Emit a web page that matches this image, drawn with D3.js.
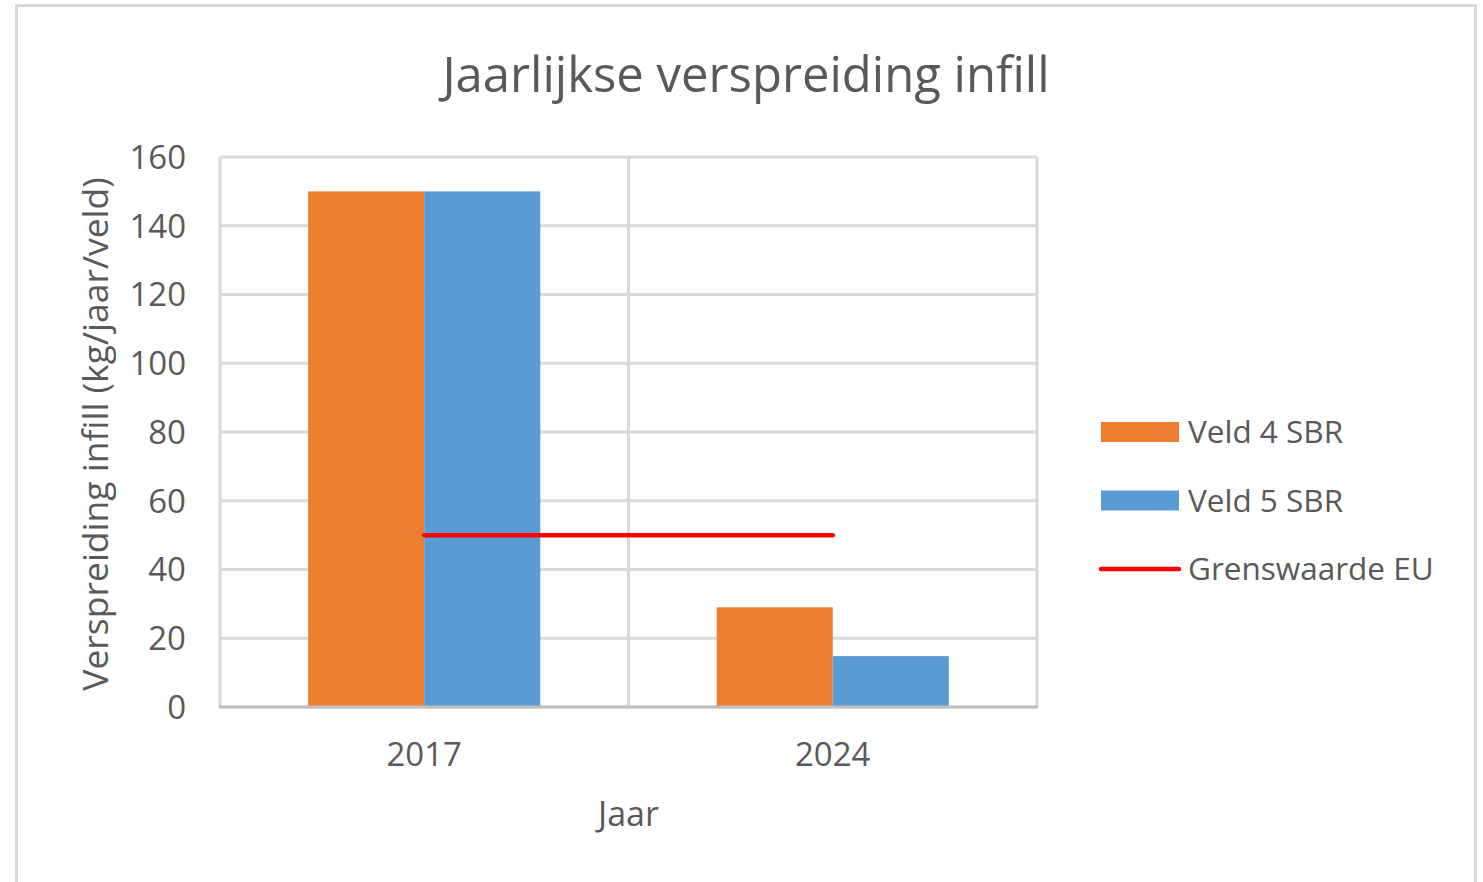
<!DOCTYPE html>
<html>
<head>
<meta charset="utf-8">
<script src="https://cdn.jsdelivr.net/npm/d3@7"></script>
<style>
  body { margin: 0; background: #fff; }
  text { font-family: "Open Sans", "Noto Sans", sans-serif; fill: #595959; }
</style>
</head>
<body>
<div id="chart"></div>
<script>
// Jaarlijkse verspreiding infill - clustered bars with EU limit line
const years = ["2017", "2024"];
const seriesNames = ["Veld 4 SBR", "Veld 5 SBR"];
const veld4 = [150, 29];
const veld5 = [150, 14.8];
const grenswaarde = [50, 50];
const yTicks = [0, 20, 40, 60, 80, 100, 120, 140, 160];

const W = 1483, H = 882;
const plot = { left: 220, top: 157, right: 1037, bottom: 707 };
const colors = { "Veld 4 SBR": "#ed7d31", "Veld 5 SBR": "#5b9bd5" };
const gridColor = "#d9d9d9";

const svg = d3.select("#chart").append("svg")
    .attr("width", W)
    .attr("height", H);

// outer chart border
svg.append("rect")
    .attr("x", 16.5).attr("y", 5.5)
    .attr("width", 1459).attr("height", 900)
    .attr("fill", "#fff")
    .attr("stroke", gridColor)
    .attr("stroke-width", 3);

const x = d3.scaleBand()
    .domain(years)
    .range([plot.left, plot.right])
    .paddingInner(0)
    .paddingOuter(0);

const xInner = d3.scaleBand()
    .domain(seriesNames)
    .range([0, x.bandwidth()])
    .paddingOuter(0.76)
    .paddingInner(0);

const y = d3.scaleLinear()
    .domain([0, 160])
    .range([plot.bottom, plot.top]);

// horizontal gridlines
svg.append("g")
    .selectAll("line")
    .data(yTicks)
    .join("line")
    .attr("x1", plot.left).attr("x2", plot.right)
    .attr("y1", d => y(d)).attr("y2", d => y(d))
    .attr("stroke", gridColor)
    .attr("stroke-width", 3);

// vertical gridlines at category boundaries
const xBounds = years.map(d => x(d)).concat([x(years[years.length - 1]) + x.bandwidth()]);
svg.append("g")
    .selectAll("line")
    .data(xBounds)
    .join("line")
    .attr("x1", d => d).attr("x2", d => d)
    .attr("y1", plot.top).attr("y2", plot.bottom)
    .attr("stroke", gridColor)
    .attr("stroke-width", 3);

// bars
const barData = [];
years.forEach((yr, i) => {
    barData.push({ year: yr, series: "Veld 4 SBR", value: veld4[i] });
    barData.push({ year: yr, series: "Veld 5 SBR", value: veld5[i] });
});

svg.append("g")
    .selectAll("rect")
    .data(barData)
    .join("rect")
    .attr("x", d => x(d.year) + xInner(d.series))
    .attr("width", xInner.bandwidth())
    .attr("y", d => y(d.value))
    .attr("height", d => y(0) - y(d.value))
    .attr("fill", d => colors[d.series]);

// x axis line
svg.append("line")
    .attr("x1", plot.left - 1).attr("x2", plot.right + 1)
    .attr("y1", plot.bottom).attr("y2", plot.bottom)
    .attr("stroke", "#bfbfbf")
    .attr("stroke-width", 3);

// EU limit line
const line = d3.line()
    .x((d, i) => x(years[i]) + x.bandwidth() / 2)
    .y(d => y(d));

svg.append("path")
    .datum(grenswaarde)
    .attr("d", line)
    .attr("fill", "none")
    .attr("stroke", "#ff0000")
    .attr("stroke-width", 4.5)
    .attr("stroke-linecap", "round");

// y tick labels
svg.append("g")
    .selectAll("text")
    .data(yTicks)
    .join("text")
    .attr("x", plot.left - 34)
    .attr("y", d => y(d))
    .attr("dy", "0.36em")
    .attr("text-anchor", "end")
    .style("font-size", "33px")
    .text(d => d);

// x tick labels
svg.append("g")
    .selectAll("text")
    .data(years)
    .join("text")
    .attr("x", d => x(d) + x.bandwidth() / 2)
    .attr("y", 766)
    .attr("text-anchor", "middle")
    .style("font-size", "33px")
    .text(d => d);

// title
svg.append("text")
    .attr("x", 746)
    .attr("y", 92)
    .attr("text-anchor", "middle")
    .style("font-size", "49px")
    .text("Jaarlijkse verspreiding infill");

// axis titles
svg.append("text")
    .attr("x", (plot.left + plot.right) / 2)
    .attr("y", 826)
    .attr("text-anchor", "middle")
    .style("font-size", "34px")
    .text("Jaar");

svg.append("text")
    .attr("transform", "translate(108, 434) rotate(-90)")
    .attr("text-anchor", "middle")
    .style("font-size", "35.5px")
    .text("Verspreiding infill (kg/jaar/veld)");

// legend
const legendItems = [
    { name: "Veld 4 SBR", type: "bar", color: colors["Veld 4 SBR"] },
    { name: "Veld 5 SBR", type: "bar", color: colors["Veld 5 SBR"] },
    { name: "Grenswaarde EU", type: "line", color: "#ff0000" }
];

const legend = svg.append("g")
    .selectAll("g")
    .data(legendItems)
    .join("g")
    .attr("transform", (d, i) => `translate(1101, ${432 + i * 68.5})`);

legend.filter(d => d.type === "bar")
    .append("rect")
    .attr("x", 0).attr("y", -10)
    .attr("width", 78).attr("height", 20)
    .attr("fill", d => d.color);

legend.filter(d => d.type === "line")
    .append("line")
    .attr("x1", 0).attr("x2", 78)
    .attr("y1", 0).attr("y2", 0)
    .attr("stroke", d => d.color)
    .attr("stroke-width", 4.5)
    .attr("stroke-linecap", "round");

legend.append("text")
    .attr("x", 87)
    .attr("y", 0)
    .attr("dy", "0.36em")
    .style("font-size", "31.5px")
    .text(d => d.name);
</script>
</body>
</html>
